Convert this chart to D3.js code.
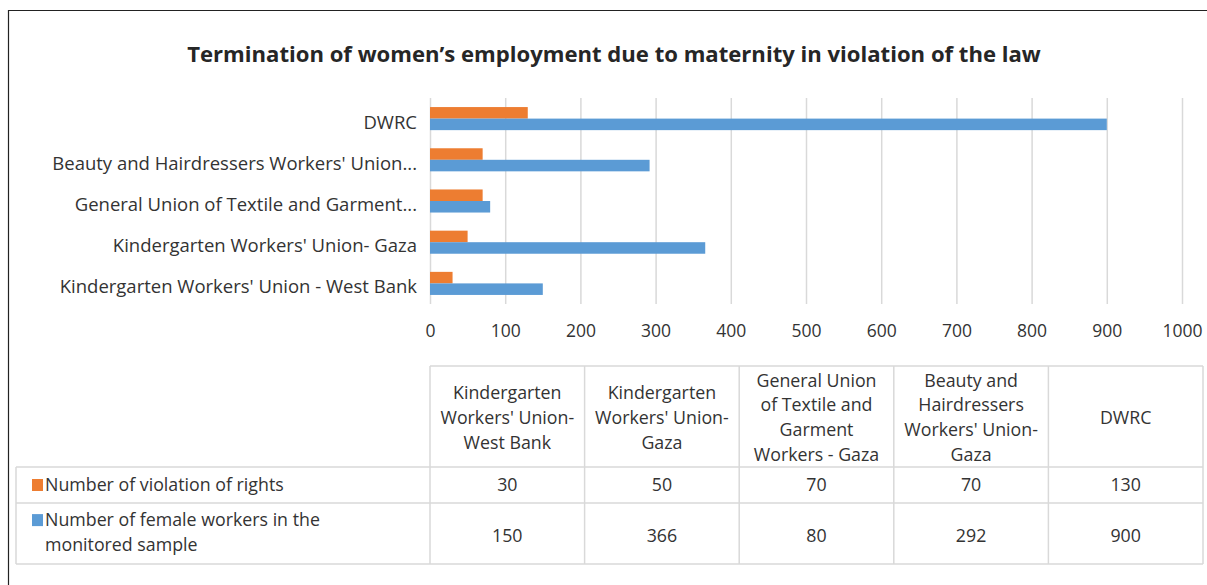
<!DOCTYPE html>
<html><head><meta charset="utf-8">
<script src="https://cdn.jsdelivr.net/npm/d3@7"></script>
<style>
body{margin:0;background:#fff;}
svg{display:block;font-family:"Open Sans",sans-serif;}
</style></head>
<body><svg id="c" width="1207" height="585"></svg>
<script>
// ---- data ----
const categories = ["Kindergarten Workers' Union - West Bank","Kindergarten Workers' Union- Gaza","General Union of Textile and Garment...","Beauty and Hairdressers Workers' Union...","DWRC"];
const tableHeaders = [["Kindergarten","Workers' Union-","West Bank"],["Kindergarten","Workers' Union-","Gaza"],["General Union","of Textile and","Garment","Workers - Gaza"],["Beauty and","Hairdressers","Workers' Union-","Gaza"],["DWRC"]];
const violations = [30,50,70,70,130];
const workers = [150,366,80,292,900];
const seriesNames = ["Number of violation of rights","Number of female workers in the monitored sample"];
const seriesLabelLines = [["Number of violation of rights"],["Number of female workers in the","monitored sample"]];
const xTicks = [0,100,200,300,400,500,600,700,800,900,1000];
const title = "Termination of women\u2019s employment due to maternity in violation of the law";

const colors = ["#ED7D31","#5B9BD5"];
const textColor = "#333333";
const gridColor = "#d9d9d9";
const FONT = "'Open Sans',sans-serif";

const svg = d3.select("#c");

// frame
svg.append("line").attr("x1",9).attr("x2",1207).attr("y1",10.5).attr("y2",10.5).attr("stroke","#222").attr("stroke-width",1.2);
svg.append("line").attr("x1",8.5).attr("x2",8.5).attr("y1",10).attr("y2",585).attr("stroke","#222").attr("stroke-width",1.2);

// title
svg.append("text").attr("x",614).attr("y",62).attr("text-anchor","middle")
  .attr("font-size",22.1).attr("font-weight","bold").attr("fill","#262626").text(title);

// scales
const x = d3.scaleLinear().domain([0,1000]).range([430,1182]);
const y = d3.scaleBand().domain(categories.slice().reverse()).range([98,304]).paddingInner(0.44).paddingOuter(0.22);
const ySub = d3.scaleBand().domain([0,1]).range([0,y.bandwidth()]);

// gridlines
svg.append("g").selectAll("line").data(xTicks).join("line")
  .attr("x1",d=>x(d)+0.5).attr("x2",d=>x(d)+0.5).attr("y1",98).attr("y2",304)
  .attr("stroke",gridColor).attr("stroke-width",1.5);

// x axis labels
const xAxis = d3.axisBottom(x).tickValues(xTicks).tickFormat(d3.format("d")).tickSize(0).tickPadding(0);
const gx = svg.append("g").attr("transform","translate(0,325)").call(xAxis);
gx.select(".domain").remove();
gx.selectAll("text").attr("font-size",17.5).attr("fill",textColor).attr("font-family",FONT);

// y axis labels
const yAxis = d3.axisLeft(y).tickSize(0).tickPadding(0);
const gy = svg.append("g").attr("transform","translate(417,4)").call(yAxis);
gy.select(".domain").remove();
gy.selectAll("text").attr("font-size",18.5).attr("fill",textColor).attr("font-family",FONT);

// bars
const series = [violations, workers];
series.forEach((vals,si)=>{
  svg.append("g").selectAll("rect").data(categories).join("rect")
    .attr("x",x(0)).attr("y",(c)=>y(c)+ySub(si))
    .attr("width",(c,i)=>x(vals[i])-x(0)).attr("height",ySub.bandwidth())
    .attr("fill",colors[si]);
});

// data table
const col = d3.scaleBand().domain(categories).range([430,1203]);
const rowTop = 366, headBottom = 467, row1Bottom = 503, row2Bottom = 564, tableLeft = 16;
const tg = svg.append("g");
const bc = "#d9d9d9";
tg.append("line").attr("x1",430).attr("x2",1203).attr("y1",rowTop).attr("y2",rowTop).attr("stroke",bc).attr("stroke-width",1.5);
[headBottom,row1Bottom,row2Bottom].forEach(yy=>{
  tg.append("line").attr("x1",tableLeft).attr("x2",1203).attr("y1",yy).attr("y2",yy).attr("stroke",bc).attr("stroke-width",1.5);
});
tg.append("line").attr("x1",tableLeft).attr("x2",tableLeft).attr("y1",headBottom).attr("y2",row2Bottom).attr("stroke",bc).attr("stroke-width",1.5);
categories.forEach(c=>{
  tg.append("line").attr("x1",col(c)).attr("x2",col(c)).attr("y1",rowTop).attr("y2",row2Bottom).attr("stroke",bc).attr("stroke-width",1.5);
});
tg.append("line").attr("x1",1203).attr("x2",1203).attr("y1",rowTop).attr("y2",row2Bottom).attr("stroke",bc).attr("stroke-width",1.5);

// headers
const lh = 24.8;
const TS = 17.8;
categories.forEach((c,i)=>{
  const lines = tableHeaders[i];
  const cy = (rowTop+headBottom)/2 + 1;
  const start = cy - (lines.length-1)*lh/2;
  const t = tg.append("text").attr("text-anchor","middle").attr("font-size",TS).attr("fill",textColor);
  lines.forEach((l,k)=>{
    t.append("tspan").attr("x",col(c)+col.bandwidth()/2).attr("y",start+k*lh).attr("dy","0.35em").text(l);
  });
});

// rows
const rowCenters = [(headBottom+row1Bottom)/2, (row1Bottom+row2Bottom)/2 + 2];
series.forEach((vals,si)=>{
  const lines = seriesLabelLines[si];
  const cy = rowCenters[si];
  const start = cy - (lines.length-1)*lh/2 - (si===1?3:0);
  tg.append("rect").attr("x",32).attr("y",start-6).attr("width",11).attr("height",12).attr("fill",colors[si]);
  const t = tg.append("text").attr("font-size",TS).attr("fill",textColor);
  lines.forEach((l,k)=>{
    t.append("tspan").attr("x",45).attr("y",start+k*lh).attr("dy","0.35em").text(l);
  });
  categories.forEach((c,i)=>{
    tg.append("text").attr("x",col(c)+col.bandwidth()/2).attr("y",cy).attr("dy","0.35em")
      .attr("text-anchor","middle").attr("font-size",TS).attr("fill",textColor).text(vals[i]);
  });
});
</script></body></html>
